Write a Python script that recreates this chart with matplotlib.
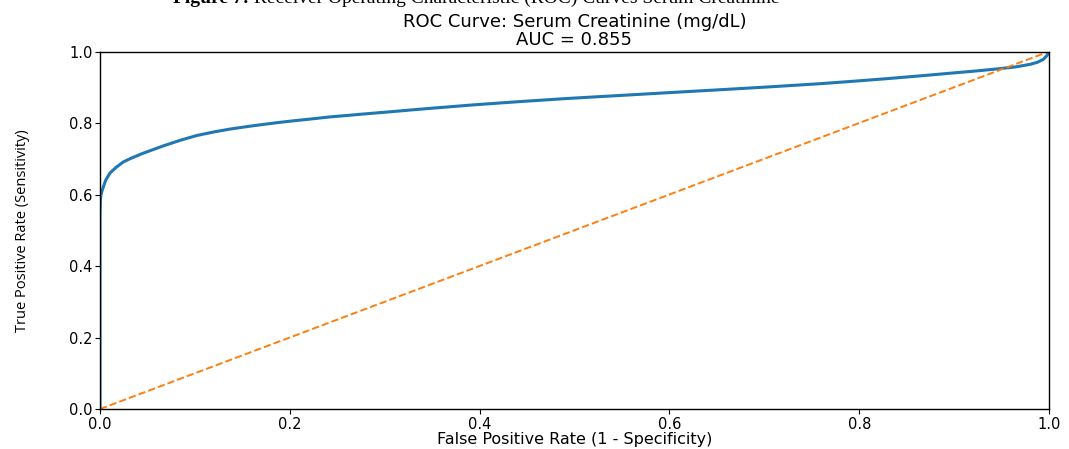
import matplotlib
matplotlib.use("Agg")
import matplotlib.pyplot as plt

plt.rcParams['font.family'] = 'DejaVu Sans'

# ROC points
fpr = [0.0, 0.0, 0.0005, 0.0015, 0.0035, 0.006, 0.0105, 0.017, 0.0245, 0.0316,
       0.045, 0.0667, 0.085, 0.102, 0.12, 0.137, 0.155, 0.172, 0.19, 0.207,
       0.225, 0.242, 0.26, 0.277, 0.295, 0.313, 0.33, 0.348, 0.395, 0.443,
       0.495, 0.548, 0.6, 0.653, 0.705, 0.759, 0.795, 0.829, 0.865, 0.899,
       0.925, 0.948, 0.965, 0.98, 0.988, 0.994, 0.998, 1.0]
tpr = [0.0, 0.548, 0.59, 0.605, 0.621, 0.64, 0.66, 0.676, 0.691, 0.7,
       0.715, 0.736, 0.752, 0.765, 0.775, 0.783, 0.79, 0.796, 0.802, 0.807,
       0.812, 0.817, 0.821, 0.825, 0.829, 0.833, 0.837, 0.841, 0.851, 0.86,
       0.869, 0.877, 0.885, 0.893, 0.901, 0.91, 0.917, 0.924, 0.932, 0.94,
       0.946, 0.952, 0.957, 0.964, 0.97, 0.978, 0.989, 1.0]
chance = [0.0, 1.0]
ticks = [0.0, 0.2, 0.4, 0.6, 0.8, 1.0]

title = "ROC Curve: Serum Creatinine (mg/dL)\nAUC = 0.855"
caption_bold = "Figure 7:"
caption_rest = " Receiver Operating Characteristic (ROC) Curves Serum Creatinine"

fig = plt.figure(figsize=(10.69, 4.49), dpi=100)
ax = fig.add_axes([100 / 1069, 40 / 449, 949 / 1069, 357.5 / 449])

ax.plot(fpr, tpr, color="#1f77b4", lw=2.2)
ax.plot(chance, chance, color="#ff7f0e", lw=1.4, ls="--")

ax.set_xlim(0, 1)
ax.set_ylim(0, 1)
ax.set_xticks(ticks)
ax.set_yticks(ticks)
ax.tick_params(labelsize=10.5, pad=2)
ax.set_xlabel("False Positive Rate (1 - Specificity)", fontsize=11.5, labelpad=0)
ax.set_ylabel("True Positive Rate (Sensitivity)", fontsize=10.5,
              family=["Liberation Sans Narrow", "Open Sans", "DejaVu Sans"],
              labelpad=28)
ax.set_title(title, fontsize=13, linespacing=0.95, pad=5)
for s in ax.spines.values():
    s.set_linewidth(1.0)

# caption at the very top, partly cut off, with a bold "Figure 7:"
r = fig.canvas.get_renderer()
yb = (449 - 3) / 449
t1 = fig.text(0, yb, caption_bold, fontsize=14, family="Liberation Serif",
              weight="bold", va="baseline")
t2 = fig.text(0, yb, caption_rest, fontsize=14, family="Liberation Serif",
              va="baseline")
w1 = t1.get_window_extent(r).width
w2 = t2.get_window_extent(r).width
x0 = 476 - (w1 + w2) / 2
t1.set_x(x0 / 1069)
t2.set_x((x0 + w1) / 1069)

fig.savefig("out.png", dpi=100)
